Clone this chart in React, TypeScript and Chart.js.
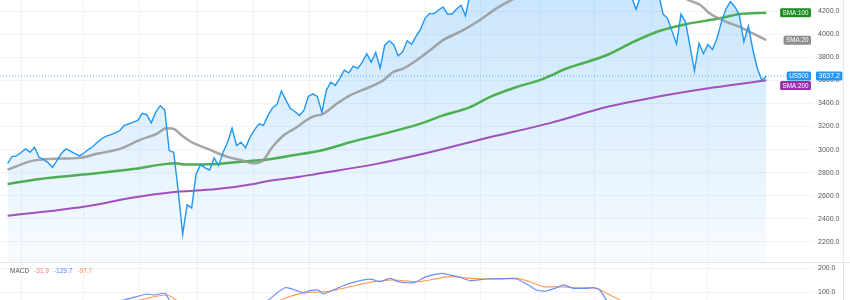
import React, { useEffect, useRef } from "react";
import { Chart, registerables } from "chart.js";
Chart.register(...registerables);

// Weekly US500 closes (index = week)
const price = [
  2881, 2939, 2945, 2974, 3006, 2976, 3020, 2933, 2916, 2887,
  2846, 2904, 2968, 3006, 2987, 2965, 2945, 2970, 3000, 3026,
  3063, 3096, 3116, 3130, 3145, 3165, 3209, 3223, 3237, 3252,
  3313, 3302, 3232, 3324, 3380, 3345, 2991, 2976, 2643, 2267,
  2522, 2493, 2789, 2870, 2841, 2823, 2928, 2861, 2976, 3063,
  3185, 3035, 3063, 3015, 3107, 3171, 3222, 3209, 3296, 3361,
  3391, 3507, 3426, 3356, 3330, 3296, 3339, 3461, 3483, 3461,
  3322, 3513, 3583, 3556, 3617, 3687, 3665, 3722, 3704, 3757,
  3830, 3757, 3841, 3704, 3904, 3942, 3909, 3813, 3846, 3942,
  3913, 3983, 4043, 4139, 4180, 4178, 4209, 4235, 4174, 4174,
  4217, 4250, 4159, 4352, 4395, 4369, 4411, 4432, 4395, 4437,
  4468, 4441, 4509, 4535, 4459, 4432, 4357, 4391, 4471, 4544,
  4605, 4660, 4697, 4682, 4594, 4538, 4712, 4620, 4766, 4797,
  4677, 4663, 4397, 4431, 4500, 4418, 4349, 4385, 4328, 4320,
  4215, 4330, 4463, 4543, 4545, 4350, 4174, 4137, 4026, 3913,
  4174, 4107, 3896, 3681, 3919, 3832, 3910, 3867, 3963, 4104,
  4217, 4281, 4237, 4165, 3933, 4070, 3867, 3704, 3600, 3637.2,
];

const sma20Weeks = [0, 5.7, 9.4, 16.1, 19.8, 25, 29.5, 33.2, 35.4, 36.9, 38.8, 41.4, 44.3, 48.8, 52.5, 54.7, 57, 58.8, 61, 64.4, 67.7, 70.3, 73.3, 76.3, 80.7, 83.7, 85.9, 88.1, 91.1, 94.1, 97, 101.5, 105.2, 108.9, 112.3, 115, 120, 125, 130, 135, 140, 145, 148, 151.6, 154.3, 156.4, 160.1, 163.1, 166, 169];
const sma20 = [2826, 2904, 2919, 2928, 2963, 3006, 3084, 3136, 3185, 3180, 3122, 3055, 3011, 2939, 2904, 2881, 2910, 3013, 3107, 3194, 3281, 3310, 3397, 3470, 3542, 3600, 3672, 3702, 3774, 3861, 3948, 4035, 4122, 4223, 4296, 4340, 4420, 4520, 4600, 4610, 4540, 4450, 4380, 4296, 4252, 4180, 4107, 4063, 4006, 3948];

const sma100Weeks = [0, 7.2, 16.9, 28, 35.4, 37.3, 39.9, 46.6, 54, 57, 63.2, 70.3, 76.3, 83.7, 91.8, 97, 103, 107.4, 113.4, 118.4, 120.6, 124.5, 133.4, 139.4, 145.3, 151.2, 158.7, 163.1, 169];
const sma100 = [2702, 2745, 2783, 2832, 2876, 2881, 2870, 2876, 2902, 2910, 2948, 2997, 3063, 3136, 3223, 3296, 3368, 3455, 3542, 3600, 3635, 3702, 3817, 3933, 4029, 4087, 4137, 4174, 4185];

const sma200Weeks = [0, 16.9, 28, 36.2, 46.6, 55.5, 58.4, 65.1, 68.8, 82.2, 92.6, 106, 120.8, 133.4, 145.3, 157.2, 169];
const sma200 = [2426, 2504, 2585, 2629, 2658, 2707, 2730, 2765, 2789, 2876, 2963, 3093, 3229, 3368, 3461, 3537, 3600];

const macdWeeks = [0, 8, 15, 20, 25.8, 27.3, 31, 32.5, 35.1, 35.8, 37.5, 40, 43, 47, 51, 55, 58.1, 59.9, 61.8, 62.9, 65.9, 67.3, 69.2, 70.3, 72.5, 74.8, 77, 80, 81.4, 82.9, 85.2, 87, 90.4, 93.3, 96.7, 98.5, 100.8, 103, 106.7, 111.2, 113.4, 115.6, 117.8, 120, 122.3, 123.8, 126, 129, 130.4, 131.9, 133.4, 136, 140, 145, 150, 153, 156, 160, 163, 166, 169];
const macd = [20, 35, 30, 50, 66.7, 73.7, 91.7, 87.5, 94.6, 73.7, 10, -90, -70, -30, 10, 35, 66.7, 94.6, 117.9, 115.4, 97.1, 105.4, 108.3, 91.7, 108.3, 126.3, 140.4, 152.9, 151.3, 142.9, 157.1, 142.9, 138.8, 163.8, 177.9, 170.8, 161.3, 147.1, 154.2, 155.4, 154.2, 133.3, 108.3, 104.2, 117.9, 130, 115.4, 115.4, 117.9, 108.3, 66.7, 20, -20, -60, -130, -150, -120, -60, -40, -80, -129.7];

const signalWeeks = [0, 10, 20, 29.5, 31.7, 35.4, 37.3, 40, 45, 50, 55, 61.8, 64.4, 67.3, 71, 74, 76.3, 80.7, 85.9, 91.1, 94.1, 98.5, 103, 108.9, 113.4, 116.3, 119.3, 122.3, 126.7, 131.2, 133.4, 136.4, 140, 145, 150, 155, 160, 165, 169];
const signal = [25, 30, 45, 66.7, 76.3, 87.5, 69.6, 30, -40, -30, 15, 73.7, 90.4, 98.7, 101.3, 112.5, 122.1, 140.4, 150, 142.9, 150, 163.8, 157.1, 154.2, 157.1, 142.9, 122.1, 122.1, 117.9, 115.4, 94.6, 66.7, 20, -30, -90, -110, -90, -70, -97.7];
const macdHistLast = -31.9;

// vertical grid (quarter starts, in weeks)
const gridWeeks = [3.0, 16.8, 29.3, 42.2, 54.7, 67.3, 80.0, 93.0, 105.4, 118.4, 130.8, 143.5, 156.0];

const X_MIN = -1.69;
const X_MAX = 179.4;
const PRICE_MIN = 2026;
const PRICE_MAX = 4295.7;
const MACD_MIN = 66.7;
const MACD_MAX = 225;

const FONT = '"Liberation Sans", Arial, sans-serif';
const GRID = "#f0f3fa";
const AXIS_W = 37;

const pts = (xs: number[], ys: number[]) => ys.map((y, i) => ({ x: xs[i], y }));
const last = (a: number[]) => a[a.length - 1];

function xScale() {
  return {
    type: "linear" as const,
    min: X_MIN,
    max: X_MAX,
    display: true,
    ticks: { display: false },
    grid: { color: GRID, drawTicks: false },
    border: { display: false },
    afterBuildTicks: (s: any) => {
      s.ticks = gridWeeks.map((v) => ({ value: v }));
    },
    afterFit: (s: any) => {
      s.height = 0;
      s.paddingLeft = 0;
      s.paddingRight = 0;
    },
  };
}

function yScale(min: number, max: number, step: number) {
  return {
    type: "linear" as const,
    position: "right" as const,
    min,
    max,
    grid: { color: GRID, drawTicks: false },
    border: { display: false },
    ticks: {
      stepSize: step,
      includeBounds: false,
      padding: 5,
      color: "#555",
      font: { size: 7, family: FONT },
      callback: (v: any) => Number(v).toFixed(1),
    },
    afterFit: (s: any) => {
      s.width = AXIS_W;
      s.paddingTop = 0;
      s.paddingBottom = 0;
    },
  };
}

function roundRect(ctx: CanvasRenderingContext2D, x: number, y: number, w: number, h: number, r: number) {
  ctx.beginPath();
  ctx.moveTo(x + r, y);
  ctx.lineTo(x + w - r, y);
  ctx.quadraticCurveTo(x + w, y, x + w, y + r);
  ctx.lineTo(x + w, y + h - r);
  ctx.quadraticCurveTo(x + w, y + h, x + w - r, y + h);
  ctx.lineTo(x + r, y + h);
  ctx.quadraticCurveTo(x, y + h, x, y + h - r);
  ctx.lineTo(x, y + r);
  ctx.quadraticCurveTo(x, y, x + r, y);
  ctx.closePath();
}

const tagsPlugin = {
  id: "tags",
  afterDraw(chart: any) {
    const { ctx, chartArea, scales } = chart;
    const ys = scales.y;
    const H = 9;
    const tags = [
      { text: "SMA:100", value: last(sma100), color: "#1f8c22" },
      { text: "SMA:20", value: last(sma20), color: "#8c8c8c" },
      { text: "US500", value: last(price), color: "#2196f3" },
      { text: "SMA:200", value: last(sma200), color: "#9a2fae" },
    ].map((t) => ({ ...t, cy: ys.getPixelForValue(t.value) }));
    tags.sort((a, b) => a.cy - b.cy);
    for (let i = 1; i < tags.length; i++) {
      if (tags[i].cy < tags[i - 1].cy + H + 0.5) tags[i].cy = tags[i - 1].cy + H + 0.5;
    }
    ctx.save();
    ctx.font = `6.3px ${FONT}`;
    ctx.textBaseline = "middle";
    ctx.textAlign = "center";
    const right = chartArea.right - 2;
    for (const t of tags) {
      const w = ctx.measureText(t.text).width + 5;
      ctx.fillStyle = t.color;
      roundRect(ctx, right - w, t.cy - H / 2, w, H, 1.5);
      ctx.fill();
      ctx.fillStyle = "#fff";
      ctx.fillText(t.text, right - w / 2, t.cy + 0.3);
    }
    // price label on axis
    const pcy = ys.getPixelForValue(last(price));
    const txt = last(price).toFixed(1);
    ctx.font = `7px ${FONT}`;
    const pw = ctx.measureText(txt).width + 5;
    const px = chartArea.right + 3;
    ctx.fillStyle = "#2196f3";
    roundRect(ctx, px, pcy - H / 2, pw, H, 1.5);
    ctx.fill();
    ctx.fillStyle = "#fff";
    ctx.fillText(txt, px + pw / 2, pcy + 0.3);
    // right border
    ctx.strokeStyle = "#e6e8ee";
    ctx.lineWidth = 1;
    ctx.beginPath();
    ctx.moveTo(843.5, 0);
    ctx.lineTo(843.5, chart.height);
    ctx.stroke();
    ctx.restore();
  },
};

const macdPlugin = {
  id: "macdDeco",
  afterDraw(chart: any) {
    const { ctx } = chart;
    ctx.save();
    ctx.strokeStyle = "#e0e3eb";
    ctx.lineWidth = 1;
    ctx.beginPath();
    ctx.moveTo(0, 0.5);
    ctx.lineTo(chart.width, 0.5);
    ctx.moveTo(843.5, 0);
    ctx.lineTo(843.5, chart.height);
    ctx.stroke();
    ctx.font = `6.5px ${FONT}`;
    ctx.textBaseline = "middle";
    ctx.textAlign = "left";
    const items = [
      { t: "MACD", c: "#555" },
      { t: macdHistLast.toFixed(1), c: "#f7787c" },
      { t: last(macd).toFixed(1), c: "#5b84f5" },
      { t: last(signal).toFixed(1), c: "#ff8f3f" },
    ];
    let x = 10;
    for (const it of items) {
      ctx.fillStyle = it.c;
      ctx.fillText(it.t, x, 9);
      x += ctx.measureText(it.t).width + 5;
    }
    ctx.restore();
  },
};

export default function App() {
  const mainRef = useRef<HTMLCanvasElement>(null);
  const macdRef = useRef<HTMLCanvasElement>(null);

  useEffect(() => {
    const lastPrice = last(price);
    const main = new Chart(mainRef.current as HTMLCanvasElement, {
      type: "line",
      data: {
        datasets: [
          {
            label: "US500",
            data: price.map((y, i) => ({ x: i, y })),
            borderColor: "#2196f3",
            borderWidth: 1.4,
            pointRadius: 0,
            tension: 0,
            fill: "start",
            backgroundColor: (c: any) => {
              const ca = c.chart.chartArea;
              if (!ca) return "rgba(33,150,243,0.1)";
              const g = c.chart.ctx.createLinearGradient(0, ca.top, 0, ca.bottom);
              g.addColorStop(0, "rgba(33,150,243,0.24)");
              g.addColorStop(1, "rgba(33,150,243,0.03)");
              return g;
            },
          },
          {
            label: "last",
            data: [
              { x: X_MIN, y: lastPrice },
              { x: X_MAX, y: lastPrice },
            ],
            borderColor: "rgba(33,150,243,0.7)",
            borderWidth: 1,
            borderDash: [1, 2],
            pointRadius: 0,
            fill: false,
          },
          {
            label: "SMA:20",
            data: pts(sma20Weeks, sma20),
            borderColor: "rgba(150,150,150,0.85)",
            borderWidth: 2.5,
            pointRadius: 0,
            cubicInterpolationMode: "monotone",
            fill: false,
          },
          {
            label: "SMA:100",
            data: pts(sma100Weeks, sma100),
            borderColor: "#4caf50",
            borderWidth: 2.5,
            pointRadius: 0,
            cubicInterpolationMode: "monotone",
            fill: false,
          },
          {
            label: "SMA:200",
            data: pts(sma200Weeks, sma200),
            borderColor: "#a150bd",
            borderWidth: 2,
            pointRadius: 0,
            cubicInterpolationMode: "monotone",
            fill: false,
          },
        ],
      },
      options: {
        responsive: false,
        animation: false,
        layout: { padding: 0 },
        plugins: {
          legend: { display: false },
          tooltip: { enabled: false },
          filler: { drawTime: "beforeDatasetsDraw" },
        },
        scales: {
          x: xScale(),
          y: yScale(PRICE_MIN, PRICE_MAX, 200),
        },
      } as any,
      plugins: [tagsPlugin],
    });

    const md = new Chart(macdRef.current as HTMLCanvasElement, {
      type: "line",
      data: {
        datasets: [
          {
            label: "MACD",
            data: pts(macdWeeks, macd),
            borderColor: "#6b8ff6",
            borderWidth: 1.2,
            pointRadius: 0,
            tension: 0.2,
            fill: false,
          },
          {
            label: "Signal",
            data: pts(signalWeeks, signal),
            borderColor: "#ff9c55",
            borderWidth: 1.2,
            pointRadius: 0,
            tension: 0.3,
            fill: false,
          },
        ],
      },
      options: {
        responsive: false,
        animation: false,
        layout: { padding: 0 },
        plugins: { legend: { display: false }, tooltip: { enabled: false } },
        scales: {
          x: xScale(),
          y: yScale(MACD_MIN, MACD_MAX, 100),
        },
      } as any,
      plugins: [macdPlugin],
    });

    return () => {
      main.destroy();
      md.destroy();
    };
  }, []);

  return (
    <div style={{ position: "absolute", left: 0, top: 0, width: 850, height: 300, background: "#fff", overflow: "hidden" }}>
      <canvas ref={mainRef} width={850} height={262} style={{ position: "absolute", left: 0, top: 0, width: 850, height: 262 }} />
      <canvas ref={macdRef} width={850} height={38} style={{ position: "absolute", left: 0, top: 262, width: 850, height: 38 }} />
    </div>
  );
}
